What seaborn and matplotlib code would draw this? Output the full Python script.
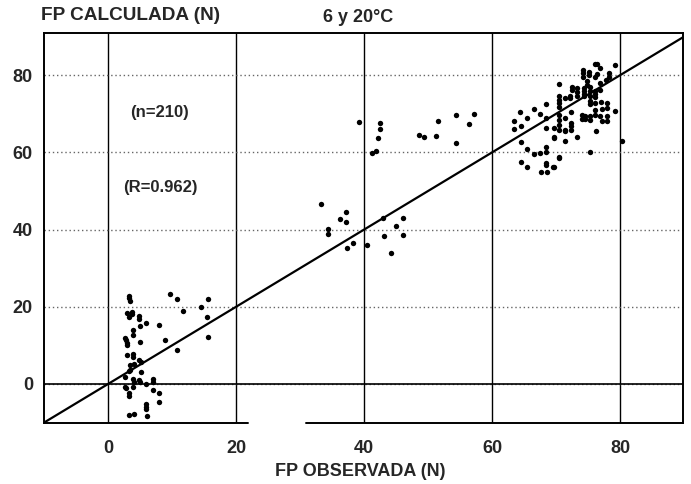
import matplotlib
matplotlib.use("Agg")
import matplotlib.pyplot as plt
import seaborn as sns
import pandas as pd

# ---- data ----
fp_observada = [
    # group near origin
    3.3, 3.3, 3.4, 9.7, 10.7, 11.7, 14.5, 15.6, 15.5, 15.6,
    3.0, 3.2, 3.8, 3.8, 4.9, 4.9, 5.9, 7.9, 5.0, 3.9,
    3.9, 2.7, 2.8, 3.0, 3.0, 5.0, 8.9, 10.8, 3.0, 3.9,
    3.9, 4.9, 5.1, 4.1, 3.5, 5.1, 3.2, 3.4, 2.7, 3.9,
    4.1, 5.0, 6.0, 7.0, 7.0, 3.9, 2.7, 2.8, 3.2, 3.2,
    7.0, 8.0, 8.0, 6.0, 6.0, 6.0, 6.1, 3.2, 4.1, 4.9,
    # group around 40
    33.2, 37.2, 36.2, 37.2, 34.3, 34.3, 38.2, 37.3, 40.4, 43.0,
    43.1, 44.2, 45.0, 46.1, 46.1,
    # group 40-57 high
    39.2, 42.4, 42.4, 42.1, 41.9, 41.2, 48.5, 49.3, 51.6, 51.3,
    54.4, 54.4, 56.3, 57.2,
    # group 63-80
    79.2, 76.0, 76.4, 76.0, 76.4, 74.2, 74.2, 74.2, 75.1, 75.1,
    76.9, 78.2, 78.2, 74.8, 74.8, 74.3, 74.3, 74.3, 76.9, 77.8,
    75.3, 75.3, 76.0, 76.0, 76.0, 76.9, 73.2, 73.2, 72.5, 72.5,
    72.2, 72.2, 73.2, 74.3, 75.2, 75.2, 70.4, 70.4, 70.4, 70.4,
    70.4, 71.4, 75.2, 76.1, 77.0, 78.0, 78.0, 77.1, 76.1, 76.1,
    79.2, 76.9, 78.0, 74.0, 74.0, 74.5, 74.5, 75.2, 75.2, 77.1,
    78.0, 80.2, 76.2, 75.3,
    63.4, 63.4, 64.5, 64.4, 65.5, 66.5, 67.5, 68.4, 68.4, 68.4,
    69.6, 69.6, 70.4, 70.4, 70.4, 70.4, 71.4, 71.4, 71.4, 72.3,
    72.3, 72.3, 72.3, 73.2, 71.3, 69.6, 64.5, 65.4, 66.5, 67.5,
    68.4, 68.4, 70.4, 64.5, 65.5, 68.4, 68.4, 69.6, 67.6, 68.5,
    69.5, 70.5,
]
fp_calculada = [
    22.8, 22.2, 21.4, 23.3, 21.9, 18.9, 19.9, 22.0, 17.4, 12.1,
    18.3, 17.4, 18.7, 18.1, 17.6, 16.8, 15.7, 15.4, 15.0, 14.0,
    12.7, 11.8, 11.4, 10.7, 10.1, 11.0, 11.4, 8.8, 7.5, 7.8,
    6.9, 6.2, 5.8, 5.3, 4.8, 3.2, 3.4, 3.6, 1.7, 1.2,
    0.6, 0.6, 0.0, 1.4, 0.6, -0.7, -0.7, -1.1, -2.4, -3.1,
    -1.6, -2.4, -4.6, -5.2, -5.9, -6.6, -8.3, -8.0, -7.8, 1.0,
    46.6, 44.5, 42.7, 42.0, 40.2, 38.8, 36.4, 35.2, 35.9, 42.9,
    38.4, 33.9, 40.8, 42.9, 38.6,
    67.8, 67.5, 66.0, 63.6, 60.4, 59.7, 64.6, 63.9, 68.0, 64.3,
    69.7, 62.5, 67.3, 69.9,
    82.6, 82.9, 82.9, 79.5, 80.2, 81.3, 80.5, 79.6, 80.9, 80.0,
    81.8, 80.5, 79.6, 78.4, 77.5, 76.6, 75.9, 75.0, 77.9, 78.8,
    76.8, 75.9, 75.9, 75.0, 74.2, 76.2, 76.6, 75.7, 76.8, 76.2,
    74.5, 74.0, 74.5, 74.5, 74.5, 73.2, 77.6, 74.5, 73.6, 72.7,
    71.8, 74.0, 72.5, 72.7, 73.0, 72.7, 71.4, 71.2, 71.0, 69.7,
    70.7, 69.3, 69.3, 69.7, 68.7, 69.3, 68.7, 69.3, 68.4, 68.0,
    68.0, 63.0, 65.5, 60.2,
    68.1, 66.1, 66.7, 70.4, 69.0, 71.2, 69.9, 72.5, 69.0, 66.2,
    66.2, 63.9, 69.7, 68.4, 67.1, 65.8, 68.8, 65.8, 65.4, 70.4,
    67.5, 66.7, 65.8, 63.9, 63.0, 63.6, 62.6, 60.8, 59.5, 59.9,
    61.3, 60.2, 58.6, 57.6, 56.3, 57.3, 56.6, 56.3, 54.8, 55.0,
    56.1, 58.9,
]
x_ticks = [0, 20, 40, 60, 80]
y_ticks = [0, 20, 40, 60, 80]
y_title = "FP CALCULADA (N)"
x_title = "FP OBSERVADA (N)"
cond_title = "6 y 20°C"
n_text = "(n=210)"
r_text = "(R=0.962)"

df = pd.DataFrame({"obs": fp_observada, "calc": fp_calculada})

sns.set_style("white")
plt.rcParams["font.family"] = ["Liberation Sans", "DejaVu Sans"]
plt.rcParams["font.weight"] = "bold"

W, H = 691, 484
fig = plt.figure(figsize=(W / 100, H / 100), dpi=100)
L, R, T, B = 44, 683, 33, 423
ax = fig.add_axes([L / W, 1 - B / H, (R - L) / W, (B - T) / H])

ax.set_xlim(-10, 89.8)
ax.set_ylim(-10.1, 90.9)
ax.set_xticks(x_ticks)
ax.set_yticks(y_ticks)
ax.set_xticklabels([str(v) for v in x_ticks], fontsize=13, fontweight="bold")
ax.set_yticklabels([str(v) for v in y_ticks], fontsize=13, fontweight="bold")
ax.tick_params(axis="x", length=0, pad=12)
ax.tick_params(axis="y", length=0, pad=8)

ax.grid(axis="x", color="black", lw=1.0, ls="-")
ax.grid(axis="y", color="#666666", lw=1.0, ls=(0, (1, 2)))
ax.set_axisbelow(True)
ax.axhline(0, color="black", lw=1.2, zorder=2)
ax.axline((0, 0), slope=1, color="black", lw=1.6, zorder=3)

sns.scatterplot(data=df, x="obs", y="calc", ax=ax, color="black", s=15,
                linewidth=0, zorder=4, legend=False)

for side in ["left", "right", "top"]:
    ax.spines[side].set_color("black")
    ax.spines[side].set_linewidth(1.4)
ax.spines["bottom"].set_visible(False)
# bottom frame line with the gap visible in the scan
for a0, a1 in [(0.0, (248 - L) / (R - L)), ((306 - L) / (R - L), 1.0)]:
    ax.plot([a0, a1], [0, 0], transform=ax.transAxes, color="black",
            lw=1.4, clip_on=False, zorder=5)

ax.set_xlabel(x_title, fontsize=13, fontweight="bold")
ax.set_ylabel("")
ax.xaxis.set_label_coords((360 - L) / (R - L), (B - 472) / (B - T))
ax.xaxis.label.set_va("center")

fig.text(41 / W, 1 - 16 / H, y_title, fontsize=13.7, fontweight="bold",
         ha="left", va="center")
fig.text(358 / W, 1 - 17 / H, cond_title, fontsize=13, fontweight="bold",
         ha="center", va="center")

ax.text(8.1, 70.2, n_text, fontsize=12, fontweight="bold", ha="center", va="center")
ax.text(8.1, 50.8, r_text, fontsize=12, fontweight="bold", ha="center", va="center")

fig.savefig("out.png", dpi=100)
